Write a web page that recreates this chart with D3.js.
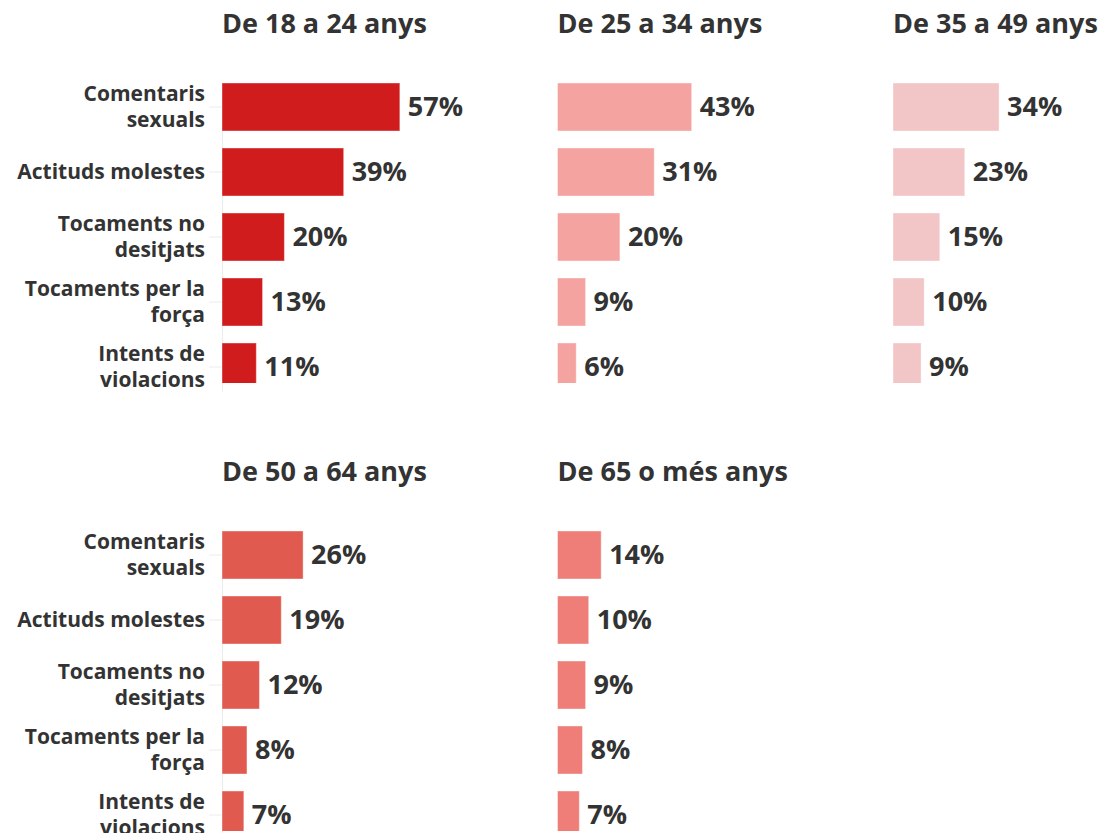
<!DOCTYPE html>
<html>
<head>
<meta charset="utf-8">
<script src="https://cdn.jsdelivr.net/npm/d3@7"></script>
<style>
  body { margin: 0; background: #fff; }
  svg text { font-family: "Open Sans", "Noto Sans", sans-serif; font-weight: 700; fill: #333; }
</style>
</head>
<body>
<svg width="1101" height="833"></svg>
<script>
// categories (same for every panel)
var categories = [
    "Comentaris sexuals",
    "Actituds molestes",
    "Tocaments no desitjats",
    "Tocaments per la força",
    "Intents de violacions"
];

// age groups, one panel each
var groups = ["De 18 a 24 anys", "De 25 a 34 anys", "De 35 a 49 anys", "De 50 a 64 anys", "De 65 o més anys"];

// percentages per group
var v18_24 = [57, 39, 20, 13, 11];
var v25_34 = [43, 31, 20, 9, 6];
var v35_49 = [34, 23, 15, 10, 9];
var v50_64 = [26, 19, 12, 8, 7];
var v65 = [14, 10, 9, 8, 7];

var colors = ["#d01c1c", "#f4a3a0", "#f2c5c6", "#e05a50", "#ee7e77"];

var panels = [v18_24, v25_34, v35_49, v50_64, v65].map(function (vals, i) {
    return { title: groups[i], values: vals, color: colors[i], col: i % 3, row: Math.floor(i / 3) };
});

var svg = d3.select("svg");

var x = d3.scaleLinear().domain([0, 100]).range([0, 312]);
var y = d3.scaleBand().domain(categories).range([0, 308]).paddingInner(17 / 65).paddingOuter(0);

var colX = d3.scaleLinear().domain([0, 1]).range([222, 557.5]);
var rowY = d3.scaleLinear().domain([0, 1]).range([83, 531]);

// bars get cut at the bottom of the plot area
svg.append("defs").append("clipPath")
    .attr("id", "plotclip")
    .append("rect")
    .attr("x", -5).attr("y", 0)
    .attr("width", 400).attr("height", 300);

function wrap(text, width) {
    text.each(function () {
        var t = d3.select(this),
            words = t.text().split(/\s+/),
            lines = [],
            line = [];
        t.text(null);
        var probe = t.append("tspan");
        words.forEach(function (w) {
            line.push(w);
            probe.text(line.join(" "));
            if (probe.node().getComputedTextLength() > width && line.length > 1) {
                line.pop();
                lines.push(line.join(" "));
                line = [w];
            }
        });
        lines.push(line.join(" "));
        probe.remove();
        var off = -(lines.length - 1) * 13;
        lines.forEach(function (l, k) {
            t.append("tspan")
                .attr("x", -17)
                .attr("y", 0)
                .attr("dy", (off + k * 26 + 7) + "px")
                .text(l);
        });
    });
}

panels.forEach(function (p) {
    var g = svg.append("g")
        .attr("transform", "translate(" + colX(p.col) + "," + rowY(p.row) + ")");

    g.append("text")
        .attr("x", 0)
        .attr("y", -50)
        .style("font-size", "27px")
        .text(p.title);

    if (p.col === 0) {
        var ax = g.append("g")
            .call(d3.axisLeft(y).tickSize(13).tickSizeOuter(0).tickPadding(4));
        ax.select(".domain").attr("stroke", "#ececec");
        ax.selectAll(".tick line").attr("stroke", "#ececec");
        ax.selectAll(".tick text")
            .attr("fill", "#333")
            .style("font-size", "21px")
            .attr("dy", null)
            .call(wrap, 196);
    }

    g.append("g")
        .attr("clip-path", "url(#plotclip)")
        .selectAll("rect")
        .data(p.values)
        .enter()
        .append("rect")
        .attr("x", 0)
        .attr("y", function (d, i) { return y(categories[i]); })
        .attr("width", function (d) { return x(d); })
        .attr("height", y.bandwidth())
        .attr("fill", p.color)
        .attr("stroke", "#fff")
        .attr("stroke-opacity", 0.4);

    g.selectAll(".val")
        .data(p.values)
        .enter()
        .append("text")
        .attr("class", "val")
        .attr("x", function (d) { return x(d) + 8; })
        .attr("y", function (d, i) { return y(categories[i]) + y.bandwidth() / 2; })
        .attr("dy", "0.35em")
        .style("font-size", "27px")
        .text(function (d) { return d + "%"; });
});
</script>
</body>
</html>
